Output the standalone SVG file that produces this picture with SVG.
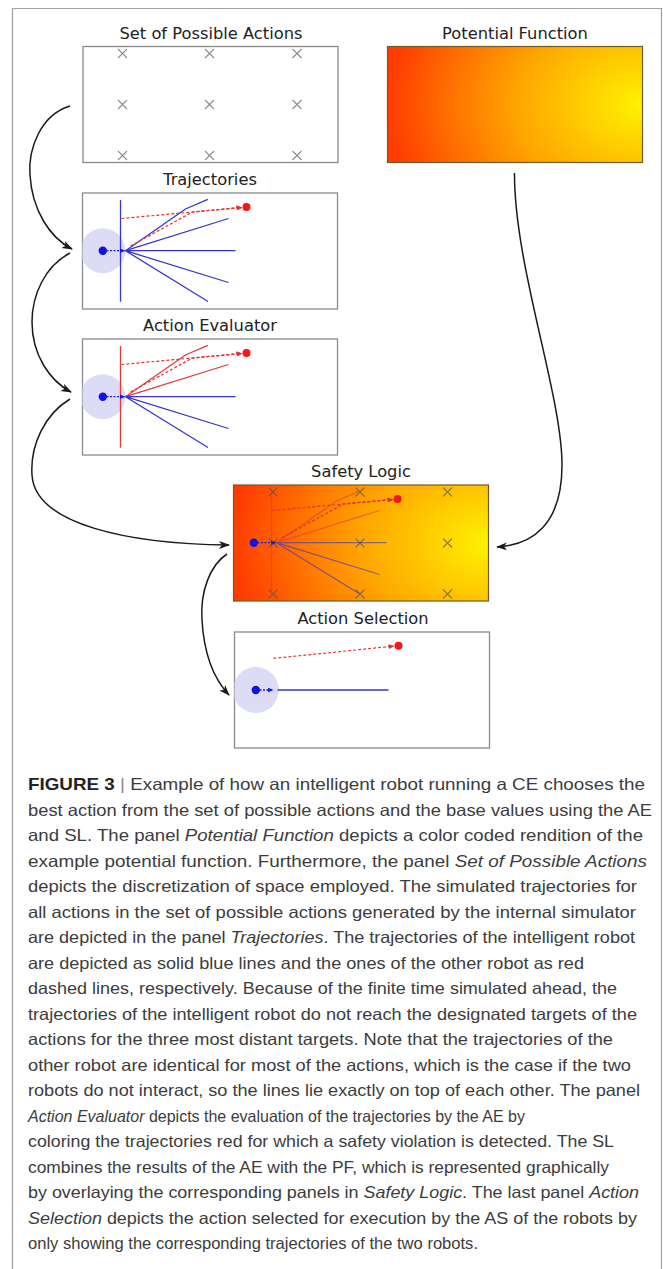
<svg xmlns="http://www.w3.org/2000/svg" width="663" height="1269" viewBox="0 0 663 1269">
<style>
.title{font-family:"DejaVu Sans",sans-serif;font-size:16.3px;fill:#222;text-anchor:middle}
.panel{fill:#fff;stroke:#8a8a8a;stroke-width:1.3}
.cpanel{stroke:#6e5a2a;stroke-width:1.2}
.xs{stroke:#8c8c8c;stroke-width:1.1;fill:none}
.xd{stroke:#555;stroke-opacity:0.7;stroke-width:1.1;fill:none}
.bl{stroke:#3535d0;stroke-width:1.3;fill:none}
.rl{stroke:#e03a3a;stroke-width:1.3;fill:none}
.rd{stroke:#e03030;stroke-width:1.2;stroke-dasharray:3,2;fill:none}
.bd{stroke:#1a1ae0;stroke-width:1.3;stroke-dasharray:2,1.5;fill:none}
.halo{fill:#dcdcf6}
.bdot{fill:#1010e8}
.rdot{fill:#f01818}
.conn{stroke:#1a1a1a;stroke-width:1.5;fill:none}
.cap{font-family:"Liberation Sans",Arial,sans-serif;font-size:16.5px;fill:#3c3c3c}
</style>
<defs>
<radialGradient id="pf" cx="1" cy="0.5" r="1" fx="1" fy="0.5" gradientTransform="translate(1,0.5) scale(1,1.6) translate(-1,-0.5)">
<stop offset="0" stop-color="#fff200"/>
<stop offset="0.25" stop-color="#ffcc00"/>
<stop offset="0.5" stop-color="#ffa500"/>
<stop offset="0.75" stop-color="#ff7200"/>
<stop offset="1" stop-color="#ff3c00"/>
</radialGradient>
<clipPath id="clipP"><rect x="0" y="0" width="255" height="116"/></clipPath>
<marker id="ah" markerUnits="userSpaceOnUse" markerWidth="12" markerHeight="10" refX="10" refY="4.5" orient="auto" viewBox="0 0 12 10"><path d="M0,0.5 L11,4.5 L0,8.5 L3,4.5 z" fill="#1a1a1a"/></marker>
<marker id="ab" markerUnits="userSpaceOnUse" markerWidth="6" markerHeight="5" refX="5" refY="2.5" orient="auto" viewBox="0 0 6 5"><path d="M0,0 L6,2.5 L0,5 z" fill="#1a1ae0"/></marker>
<marker id="ar" markerUnits="userSpaceOnUse" markerWidth="6" markerHeight="5" refX="5" refY="2.5" orient="auto" viewBox="0 0 6 5"><path d="M0,0 L6,2.5 L0,5 z" fill="#e03030"/></marker>
<path id="x" d="M-4.5,-4.5 L4.5,4.5 M-4.5,4.5 L4.5,-4.5"/>
</defs>

<path d="M12.5,1269 V8.5 H661.5 V1269" stroke="#a0a0a0" fill="none" stroke-width="1.2"/>

<g id="set-of-possible-actions">
<text class="title" x="211" y="39.3">Set of Possible Actions</text>
<rect class="panel" x="83" y="46.5" width="255" height="116"/>
<g class="xs" transform="translate(83,46.5)">
<use href="#x" x="39.5" y="7"/><use href="#x" x="126.5" y="7"/><use href="#x" x="214" y="7"/>
<use href="#x" x="39.5" y="58"/><use href="#x" x="126.5" y="58"/><use href="#x" x="214" y="58"/>
<use href="#x" x="39.5" y="109"/><use href="#x" x="126.5" y="109"/><use href="#x" x="214" y="109"/>
</g>
</g>

<g id="potential-function">
<text class="title" x="515" y="39.3">Potential Function</text>
<rect class="cpanel" x="387.5" y="46.5" width="255" height="116" fill="url(#pf)"/>
</g>

<g id="trajectories">
<text class="title" x="210" y="185">Trajectories</text>
<rect class="panel" x="82.5" y="193" width="255" height="116"/>
<g transform="translate(82.5,193)">
<circle class="halo" cx="20.3" cy="57.7" r="22.5" clip-path="url(#clipP)"/>
<path class="bl" d="M38,7 V108.7"/>
<polyline class="bl" points="43,57.7 103,16 125.3,6.3"/>
<path class="bl" d="M43,57.7 L146,25.5 M43,57.7 L153,57.7 M43,57.7 L146,89.5 M43,57.7 L125.5,108.5"/>
<path class="rd" d="M39,25.5 L159,14.5" marker-end="url(#ar)"/>
<polyline class="rd" points="48,53 110,19 159,14.5" marker-end="url(#ar)"/>
<circle class="rdot" cx="164" cy="14" r="4"/>
<path class="bd" d="M24,57.7 L42,57.7" marker-end="url(#ab)"/>
<circle class="bdot" cx="20.3" cy="57.7" r="4.2"/>
</g>
</g>

<g id="action-evaluator">
<text class="title" x="210" y="330.5">Action Evaluator</text>
<rect class="panel" x="82.5" y="339" width="255" height="116"/>
<g transform="translate(82.5,339)">
<circle class="halo" cx="20.3" cy="57.7" r="22.5" clip-path="url(#clipP)"/>
<path class="rl" d="M38,7 V108.7"/>
<polyline class="rl" points="43,57.7 103,16 125.3,6.3"/>
<path class="rl" d="M43,57.7 L146,25.5"/>
<path class="bl" d="M43,57.7 L153,57.7 M43,57.7 L146,89.5 M43,57.7 L125.5,108.5"/>
<path class="rd" d="M39,25.5 L159,14.5" marker-end="url(#ar)"/>
<polyline class="rd" points="48,53 110,19 159,14.5" marker-end="url(#ar)"/>
<circle class="rdot" cx="164" cy="14" r="4"/>
<path class="bd" d="M24,57.7 L42,57.7" marker-end="url(#ab)"/>
<circle class="bdot" cx="20.3" cy="57.7" r="4.2"/>
</g>
</g>

<g id="safety-logic">
<text class="title" x="361" y="477">Safety Logic</text>
<rect class="cpanel" x="233.5" y="485" width="255" height="116" fill="url(#pf)"/>
<g transform="translate(233.5,485)">
<g class="xd">
<use href="#x" x="39.5" y="7"/><use href="#x" x="126.5" y="7"/><use href="#x" x="214" y="7"/>
<use href="#x" x="39.5" y="58"/><use href="#x" x="126.5" y="58"/><use href="#x" x="214" y="58"/>
<use href="#x" x="39.5" y="109"/><use href="#x" x="126.5" y="109"/><use href="#x" x="214" y="109"/>
</g>
<g opacity="0.6">
<path class="rl" d="M38,7 V108.7" stroke="#a02040"/>
<polyline class="rl" points="43,57.7 103,16 125.3,6.3"/>
<path class="rl" d="M43,57.7 L146,25.5"/>
<path class="bl" d="M43,57.7 L153,57.7 M43,57.7 L146,89.5 M43,57.7 L125.5,108.5"/>
</g>
<path class="rd" d="M39,25.5 L159,14.5" marker-end="url(#ar)"/>
<polyline class="rd" points="48,53 110,19 159,14.5" marker-end="url(#ar)"/>
<circle class="rdot" cx="164" cy="14" r="4"/>
<path class="bd" d="M24,57.7 L42,57.7" marker-end="url(#ab)"/>
<circle class="bdot" cx="20.3" cy="57.7" r="4.2"/>
</g>
</g>

<g id="action-selection">
<text class="title" x="363" y="624">Action Selection</text>
<rect class="panel" x="234.5" y="632" width="255" height="116"/>
<g transform="translate(234.5,632)">
<circle class="halo" cx="21.3" cy="58" r="23" clip-path="url(#clipP)"/>
<path class="bl" d="M43,58 L154,58"/>
<path class="rd" d="M39,26.3 L159,14.2" marker-end="url(#ar)"/>
<circle class="rdot" cx="164" cy="13.8" r="4"/>
<path class="bd" d="M25,58 L38,58" marker-end="url(#ab)"/>
<circle class="bdot" cx="21.3" cy="58" r="4.2"/>
</g>
</g>

<g id="connectors">
<path class="conn" d="M70,106 C40,115 28,150 30,175 C32,210 50,238 72,249" marker-end="url(#ah)"/>
<path class="conn" d="M70,253 C45,266 32,295 32,322 C32,355 50,381 71,392" marker-end="url(#ah)"/>
<path class="conn" d="M70,399 C45,414 30,445 32,475 C35,525 130,544 229,545" marker-end="url(#ah)"/>
<path class="conn" d="M514.5,173 C514,265 562,395 562,465 C562,525 532,545 497,547" marker-end="url(#ah)"/>
<path class="conn" d="M227,554 C210,565 200,592 202,620 C204,655 214,679 229,695" marker-end="url(#ah)"/>
</g>

<g id="caption" class="cap">
<text x="28" y="790" textLength="617" lengthAdjust="spacingAndGlyphs"><tspan font-weight="bold" fill="#222">FIGURE 3</tspan> <tspan fill="#888">|</tspan> Example of how an intelligent robot running a CE chooses the</text>
<text x="28" y="815.5" textLength="624" lengthAdjust="spacingAndGlyphs">best action from the set of possible actions and the base values using the AE</text>
<text x="28" y="841" textLength="615" lengthAdjust="spacingAndGlyphs">and SL. The panel <tspan font-style="italic">Potential Function</tspan> depicts a color coded rendition of the</text>
<text x="28" y="866.5" textLength="619" lengthAdjust="spacingAndGlyphs">example potential function. Furthermore, the panel <tspan font-style="italic">Set of Possible Actions</tspan></text>
<text x="28" y="892" textLength="609" lengthAdjust="spacingAndGlyphs">depicts the discretization of space employed. The simulated trajectories for</text>
<text x="28" y="917.5" textLength="608" lengthAdjust="spacingAndGlyphs">all actions in the set of possible actions generated by the internal simulator</text>
<text x="28" y="943" textLength="607" lengthAdjust="spacingAndGlyphs">are depicted in the panel <tspan font-style="italic">Trajectories</tspan>. The trajectories of the intelligent robot</text>
<text x="28" y="968.5" textLength="556" lengthAdjust="spacingAndGlyphs">are depicted as solid blue lines and the ones of the other robot as red</text>
<text x="28" y="994" textLength="589" lengthAdjust="spacingAndGlyphs">dashed lines, respectively. Because of the finite time simulated ahead, the</text>
<text x="28" y="1019.5" textLength="609" lengthAdjust="spacingAndGlyphs">trajectories of the intelligent robot do not reach the designated targets of the</text>
<text x="28" y="1045" textLength="585" lengthAdjust="spacingAndGlyphs">actions for the three most distant targets. Note that the trajectories of the</text>
<text x="28" y="1070.5" textLength="603" lengthAdjust="spacingAndGlyphs">other robot are identical for most of the actions, which is the case if the two</text>
<text x="28" y="1096" textLength="612" lengthAdjust="spacingAndGlyphs">robots do not interact, so the lines lie exactly on top of each other. The panel</text>
<text x="28" y="1121.5" textLength="497" lengthAdjust="spacingAndGlyphs"><tspan font-style="italic">Action Evaluator</tspan> depicts the evaluation of the trajectories by the AE by</text>
<text x="28" y="1147" textLength="586" lengthAdjust="spacingAndGlyphs">coloring the trajectories red for which a safety violation is detected. The SL</text>
<text x="28" y="1172.5" textLength="581" lengthAdjust="spacingAndGlyphs">combines the results of the AE with the PF, which is represented graphically</text>
<text x="28" y="1198" textLength="611" lengthAdjust="spacingAndGlyphs">by overlaying the corresponding panels in <tspan font-style="italic">Safety Logic</tspan>. The last panel <tspan font-style="italic">Action</tspan></text>
<text x="28" y="1223.5" textLength="609" lengthAdjust="spacingAndGlyphs"><tspan font-style="italic">Selection</tspan> depicts the action selected for execution by the AS of the robots by</text>
<text x="28" y="1249" textLength="450" lengthAdjust="spacingAndGlyphs">only showing the corresponding trajectories of the two robots.</text>
</g>
</svg>
